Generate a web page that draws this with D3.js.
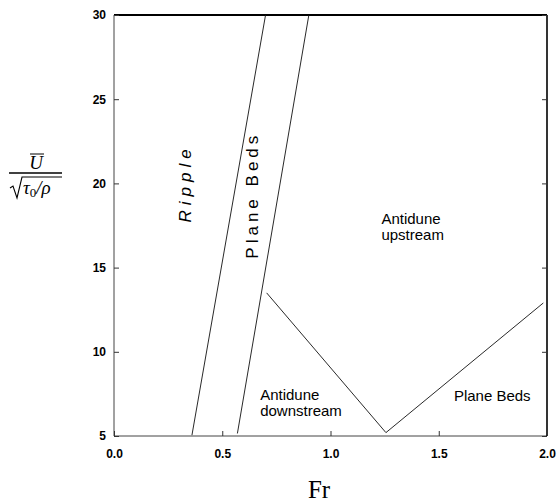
<!DOCTYPE html>
<html>
<head>
<meta charset="utf-8">
<script src="https://cdn.jsdelivr.net/npm/d3@7"></script>
<style>
  body { margin: 0; background: #fff; }
  svg text { font-family: "Liberation Sans", Arial, sans-serif; }
</style>
</head>
<body>
<svg id="chart" width="558" height="502"></svg>
<script>
const xTicks = [0.0, 0.5, 1.0, 1.5, 2.0],
    yTicks = [5, 10, 15, 20, 25, 30],
    // regime boundaries (Fr, U/sqrt(tau0/rho))
    rippleLine = [{x: 0.36, y: 5.05}, {x: 0.70, y: 30}],
    planeLine = [{x: 0.57, y: 5.15}, {x: 0.90, y: 30}],
    antiduneLine = [{x: 0.705, y: 13.5}, {x: 1.256, y: 5.2}, {x: 1.983, y: 12.9}],
    regionLabels = [
        {lines: ["Antidune", "upstream"], x: 1.235, y: 17.6},
        {lines: ["Antidune", "downstream"], x: 0.675, y: 7.15},
        {lines: ["Plane Beds"], x: 1.57, y: 7.05}
    ],
    sideLabels = [
        {text: "Ripple", x: 0.355, y: 20.0, italic: true},
        {text: "Plane Beds", x: 0.663, y: 19.3, italic: false}
    ],
    margin = {top: 15, left: 114, right: 11, bottom: 66};

var svg = d3.select("#chart"),
    width = +svg.attr("width") - margin.left - margin.right,
    height = +svg.attr("height") - margin.top - margin.bottom;

var xScale = d3.scaleLinear().domain([0, 2]).range([0, width]),
    yScale = d3.scaleLinear().domain([5, 30]).range([height, 0]);

var g = svg.append("g")
    .attr("transform", "translate(" + margin.left + "," + margin.top + ")");

// frame: thin left/bottom, heavier top/right like the scan
g.append("line").attr("x1", 0).attr("x2", 0).attr("y1", 0).attr("y2", height)
    .attr("stroke", "#444").attr("stroke-width", 1);
g.append("line").attr("x1", 0).attr("x2", width).attr("y1", height).attr("y2", height)
    .attr("stroke", "#444").attr("stroke-width", 1);
g.append("line").attr("x1", 0).attr("x2", width).attr("y1", 0).attr("y2", 0)
    .attr("stroke", "#000").attr("stroke-width", 2.2);
g.append("line").attr("x1", width).attr("x2", width).attr("y1", 0).attr("y2", height)
    .attr("stroke", "#000").attr("stroke-width", 1.6);

// axes with inward ticks
g.append("g")
    .attr("transform", "translate(0," + height + ")")
    .call(d3.axisBottom(xScale).tickValues(xTicks).tickSize(-5).tickPadding(13)
        .tickFormat(d3.format(".1f")));
g.append("g")
    .call(d3.axisLeft(yScale).tickValues(yTicks).tickSize(-5).tickPadding(8));
g.append("g")
    .attr("transform", "translate(" + width + ",0)")
    .call(d3.axisRight(yScale).tickValues(yTicks).tickSize(-5).tickFormat(""));

g.selectAll(".domain").remove();
g.selectAll(".tick line").attr("stroke", "#333");
g.selectAll(".tick text")
    .attr("font-size", 12)
    .attr("font-weight", "bold")
    .attr("fill", "#000");

// boundary lines
var line = d3.line()
    .x(function(d) { return xScale(d.x); })
    .y(function(d) { return yScale(d.y); });

[rippleLine, planeLine, antiduneLine].forEach(function(pts) {
    g.append("path")
        .datum(pts)
        .attr("d", line)
        .attr("fill", "none")
        .attr("stroke", "#111")
        .attr("stroke-width", 0.9);
});

// region labels
regionLabels.forEach(function(lab) {
    var t = g.append("text")
        .attr("x", xScale(lab.x))
        .attr("y", yScale(lab.y))
        .attr("font-size", 15)
        .attr("fill", "#000");
    lab.lines.forEach(function(s, i) {
        t.append("tspan")
            .attr("x", xScale(lab.x))
            .attr("dy", i == 0 ? 0 : 16)
            .text(s);
    });
});

// rotated labels between the slanted lines
sideLabels.forEach(function(lab) {
    g.append("text")
        .attr("transform", "translate(" + xScale(lab.x) + "," + yScale(lab.y) + ") rotate(-90)")
        .attr("text-anchor", "middle")
        .attr("font-size", 17)
        .attr("letter-spacing", lab.italic ? 5 : 4)
        .attr("font-style", lab.italic ? "italic" : "normal")
        .attr("fill", "#000")
        .text(lab.text);
});

// x axis title
svg.append("text")
    .attr("x", 319)
    .attr("y", 498)
    .attr("text-anchor", "middle")
    .style("font-family", "'Liberation Serif', 'Times New Roman', serif")
    .attr("font-size", 25)
    .text("Fr");

// y axis title: U-bar over sqrt(tau0/rho)
var yl = svg.append("g").attr("class", "ylabel");
yl.append("text")
    .attr("x", 36).attr("y", 169)
    .attr("text-anchor", "middle")
    .style("font-family", "'Liberation Serif', 'Times New Roman', serif")
    .attr("font-size", 19)
    .attr("font-style", "italic")
    .text("U");
yl.append("line").attr("x1", 30).attr("x2", 44).attr("y1", 154).attr("y2", 154)
    .attr("stroke", "#000").attr("stroke-width", 1);
yl.append("line").attr("x1", 9).attr("x2", 62).attr("y1", 173).attr("y2", 173)
    .attr("stroke", "#000").attr("stroke-width", 1.3);
yl.append("path")
    .attr("d", "M10,188 L13,186 L17,198 L22,177 L62,177")
    .attr("fill", "none").attr("stroke", "#000").attr("stroke-width", 1.1);
var den = yl.append("text")
    .attr("x", 23).attr("y", 194)
    .style("font-family", "'Liberation Serif', 'Times New Roman', serif")
    .attr("font-size", 19);
den.append("tspan").attr("font-style", "italic").text("τ");
den.append("tspan").attr("font-size", 13).attr("dy", 3).text("0");
den.append("tspan").attr("dy", -3).attr("font-style", "italic").text("/ρ");
</script>
</body>
</html>
